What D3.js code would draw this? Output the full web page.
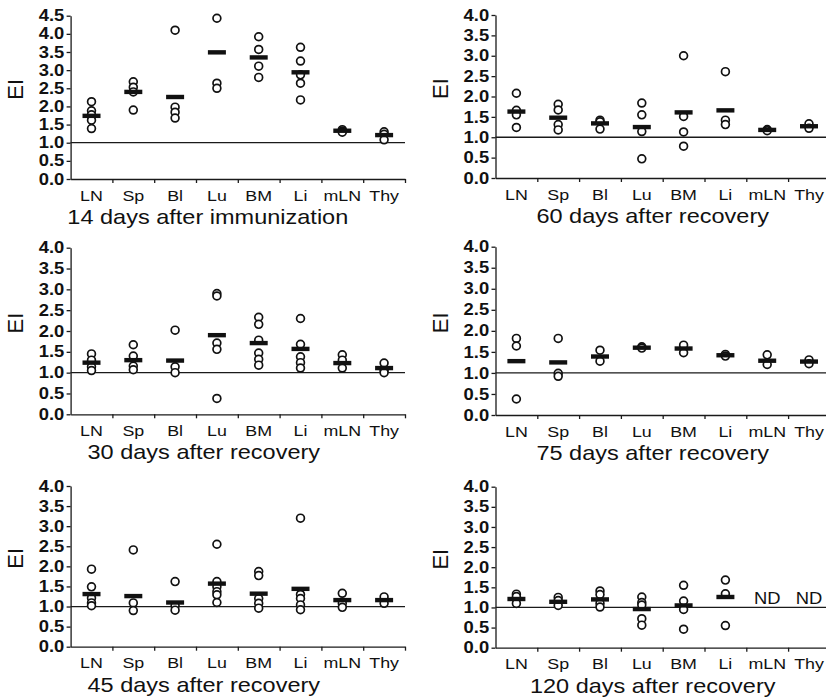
<!DOCTYPE html>
<html>
<head>
<meta charset="utf-8">
<script src="https://cdn.jsdelivr.net/npm/d3@7"></script>
<style>
  body { margin: 0; background: #fff; }
  text { font-family: "Liberation Sans", Arial, sans-serif; fill: #111; }
</style>
</head>
<body>
<div id="chart"></div>
<script>
/* DATA */
const organs = ["LN", "Sp", "Bl", "Lu", "BM", "Li", "mLN", "Thy"];
const titles = [
  "14 days after immunization", "60 days after recovery",
  "30 days after recovery", "75 days after recovery",
  "45 days after recovery", "120 days after recovery"
];
const yMaxes = [4.5, 4, 4, 4, 4, 4];
const baselineEI = 1.0;

// individual EI values per organ (same order as organs), and the group means
const ei14imm = [[2.13, 1.88, 1.77, 1.62, 1.39], [2.68, 2.53, 2.40, 1.90], [4.10, 1.98, 1.84, 1.68],
  [4.43, 2.64, 2.50], [3.92, 3.57, 3.11, 2.80], [3.63, 3.25, 2.87, 2.64, 2.18],
  [1.36, 1.32, 1.29], [1.30, 1.23, 1.08]];
const mean14imm = [1.74, 2.40, 2.26, 3.49, 3.35, 2.94, 1.33, 1.21];

const ei60rec = [[2.08, 1.66, 1.55, 1.24], [1.81, 1.67, 1.31, 1.18], [1.42, 1.38, 1.20],
  [1.84, 1.55, 1.14, 0.47], [3.00, 1.51, 1.13, 0.78], [2.61, 1.42, 1.31],
  [1.19, 1.16], [1.33, 1.22]];
const mean60rec = [1.63, 1.48, 1.34, 1.25, 1.61, 1.66, 1.18, 1.27];

const ei30rec = [[1.45, 1.30, 1.14, 1.05], [1.67, 1.40, 1.16, 1.07], [2.02, 1.14, 1.00],
  [2.90, 2.84, 1.71, 1.56, 0.38], [2.33, 2.16, 1.78, 1.47, 1.32, 1.18], [2.30, 1.68, 1.38, 1.24, 1.11],
  [1.43, 1.30, 1.11], [1.23, 1.05, 1.00]];
const mean30rec = [1.24, 1.30, 1.29, 1.90, 1.71, 1.57, 1.23, 1.11];

const ei75rec = [[1.82, 1.64, 0.38], [1.82, 0.99, 0.92], [1.54, 1.28],
  [1.62, 1.59], [1.66, 1.48], [1.44, 1.40],
  [1.43, 1.20], [1.31, 1.22]];
const mean75rec = [1.28, 1.25, 1.39, 1.60, 1.58, 1.42, 1.29, 1.27];

const ei45rec = [[1.93, 1.49, 1.21, 1.09, 1.02], [2.41, 1.09, 0.90], [1.62, 1.02, 0.91],
  [2.55, 1.62, 1.49, 1.37, 1.29, 1.10], [1.87, 1.77, 1.20, 1.08, 0.96], [3.20, 1.30, 1.20, 1.04, 0.92],
  [1.33, 1.08, 0.98], [1.24, 1.08]];
const mean45rec = [1.31, 1.26, 1.10, 1.57, 1.32, 1.44, 1.16, 1.16];

const ei120rec = [[1.33, 1.27, 1.10], [1.25, 1.17, 1.05], [1.41, 1.32, 1.10, 1.01],
  [1.26, 1.12, 1.06, 0.72, 0.56], [1.55, 1.16, 0.95, 0.46], [1.68, 1.34, 0.55],
  null, null];
const mean120rec = [1.21, 1.14, 1.20, 0.96, 1.05, 1.26, null, null];
const ndLevel = 1.22; // where the "ND" marks sit

/* LAYOUT */
const width = 826, height = 700;
const bandW = 41.8;
const textStretch = 1.15;

const panels = [
  { title: titles[0], yMax: yMaxes[0], pts: ei14imm, means: mean14imm, left: 70.6, top: 15.7, bottom: 179, capShift: -30 },
  { title: titles[1], yMax: yMaxes[1], pts: ei60rec, means: mean60rec, left: 495.5, top: 15, bottom: 178, capShift: -10 },
  { title: titles[2], yMax: yMaxes[2], pts: ei30rec, means: mean30rec, left: 70.6, top: 247.7, bottom: 414.3, capShift: -34 },
  { title: titles[3], yMax: yMaxes[3], pts: ei75rec, means: mean75rec, left: 495.5, top: 246.7, bottom: 415, capShift: -10 },
  { title: titles[4], yMax: yMaxes[4], pts: ei45rec, means: mean45rec, left: 70.6, top: 486, bottom: 646.7, capShift: -34 },
  { title: titles[5], yMax: yMaxes[5], pts: ei120rec, means: mean120rec, left: 495.5, top: 486.7, bottom: 647.7, capShift: -10 }
];

const svg = d3.select("#chart").append("svg")
  .attr("width", width)
  .attr("height", height);

panels.forEach(p => {
  const right = p.left + bandW * organs.length;
  const x = d3.scaleBand().domain(organs).range([p.left, right]);
  const xEdge = d3.scaleLinear().domain([0, organs.length]).range([p.left, right]);
  const y = d3.scaleLinear().domain([0, p.yMax]).range([p.bottom, p.top]);

  const g = svg.append("g");

  // y axis
  const yAxisG = g.append("g")
    .attr("transform", `translate(${p.left},0)`)
    .call(d3.axisLeft(y)
      .tickValues(d3.range(0, p.yMax + 0.01, 0.5))
      .tickFormat(d3.format(".1f"))
      .tickSize(4)
      .tickSizeOuter(0)
      .tickPadding(1.5));
  yAxisG.selectAll("text")
    .attr("font-size", 16)
    .attr("font-weight", "bold")
    .attr("transform", `scale(${textStretch},1)`);

  // x axis: ticks at the category edges
  g.append("g")
    .attr("transform", `translate(0,${p.bottom})`)
    .call(d3.axisBottom(xEdge)
      .tickValues(d3.range(1, organs.length + 1))
      .tickFormat("")
      .tickSize(4)
      .tickSizeOuter(0));

  // x labels at the category centres
  const xLab = g.append("g")
    .attr("transform", `translate(0,${p.bottom})`)
    .call(d3.axisBottom(x).tickSize(0).tickPadding(10.5));
  xLab.select(".domain").remove();
  xLab.selectAll("text")
    .attr("font-size", 15.5)
    .attr("transform", `scale(${textStretch},1)`);

  g.selectAll(".domain, .tick line").attr("stroke", "#1a1a1a").attr("stroke-width", 1.3);

  // reference line at EI = 1
  g.append("line")
    .attr("x1", p.left).attr("x2", right)
    .attr("y1", y(baselineEI)).attr("y2", y(baselineEI))
    .attr("stroke", "#1a1a1a")
    .attr("stroke-width", 1.3);

  // individual values
  organs.forEach((o, i) => {
    if (!p.pts[i]) {
      g.append("text")
        .attr("transform", `translate(${x(o) + x.bandwidth() / 2},${y(ndLevel) + 5.5}) scale(${textStretch},1)`)
        .attr("text-anchor", "middle")
        .attr("font-size", 16)
        .text("ND");
      return;
    }
    g.selectAll(null)
      .data(p.pts[i])
      .join("circle")
      .attr("cx", x(o) + x.bandwidth() / 2)
      .attr("cy", d => y(d))
      .attr("r", 3.9)
      .attr("fill", "#fff")
      .attr("stroke", "#111")
      .attr("stroke-width", 1.7);
  });

  // means
  g.selectAll(null)
    .data(organs.map((o, i) => ({ o, v: p.means[i] })).filter(d => d.v != null))
    .join("rect")
    .attr("x", d => x(d.o) + x.bandwidth() / 2 - 9)
    .attr("y", d => y(d.v) - 2.2)
    .attr("width", 18)
    .attr("height", 4.4)
    .attr("fill", "#111");

  // axis title
  g.append("text")
    .attr("transform", `translate(${p.left - 48},${(p.top + p.bottom) / 2 - 8}) rotate(-90)`)
    .attr("text-anchor", "middle")
    .attr("font-size", 22)
    .text("EI");

  // panel caption
  g.append("text")
    .attr("transform", `translate(${(p.left + right) / 2 + p.capShift},${p.bottom + 45}) scale(1.12,1)`)
    .attr("text-anchor", "middle")
    .attr("font-size", 21)
    .text(p.title);
});
</script>
</body>
</html>
